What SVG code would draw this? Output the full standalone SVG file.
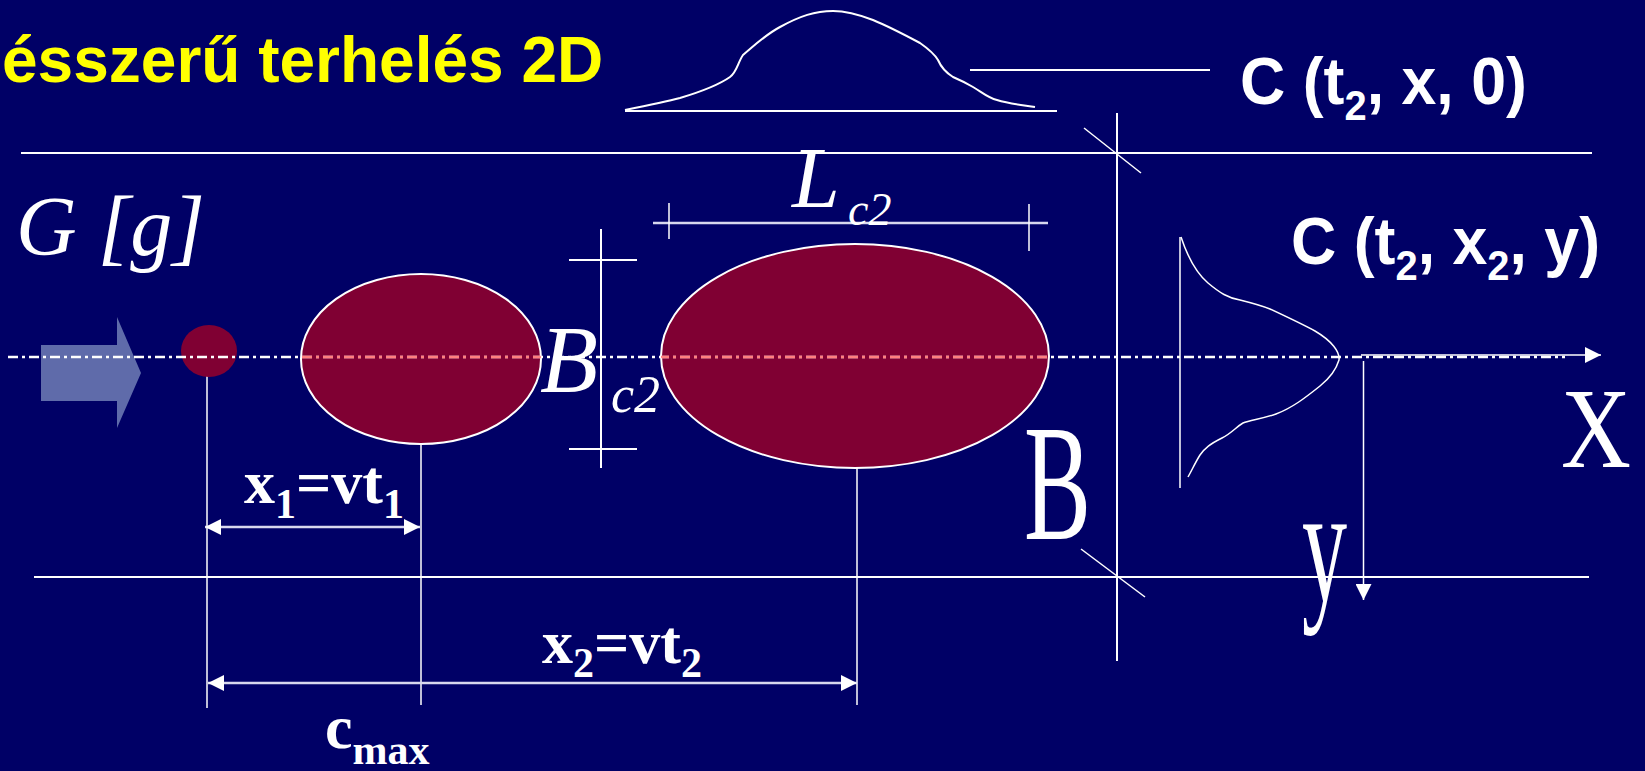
<svg xmlns="http://www.w3.org/2000/svg" width="1645" height="771" viewBox="0 0 1645 771">
<style>
.ln{stroke:#FFFFFF;stroke-width:2;fill:none}
.th{stroke:#FFFFFF;stroke-width:1.5;fill:none}
.dim{stroke:#D8D8EE;stroke-width:2.5;fill:none}
.blob{fill:#800033;stroke:#FFFFFF;stroke-width:2}
.ax{font-family:"Liberation Sans",Arial,sans-serif;font-weight:bold;fill:#FFFFFF}
.tm{font-family:"Liberation Serif","Times New Roman",serif;fill:#FFFFFF}
.tmi{font-family:"Liberation Serif","Times New Roman",serif;font-style:italic;fill:#FFFFFF}
.tmb{font-family:"Liberation Serif","Times New Roman",serif;font-weight:bold;fill:#FFFFFF}
</style>
<defs>
<marker id="ah" viewBox="0 0 16 16" refX="16" refY="8" markerWidth="16" markerHeight="16" markerUnits="userSpaceOnUse" orient="auto-start-reverse">
<path d="M0,0 L16,8 L0,16 z" fill="#FFFFFF"/>
</marker>
<clipPath id="inside">
<ellipse cx="421" cy="359" rx="120" ry="85"/>
<ellipse cx="855" cy="356" rx="194" ry="112"/>
</clipPath>
</defs>
<rect width="1645" height="771" fill="#000066"/>

<g id="title">
<text x="2" y="82" font-family="'Liberation Sans',Arial,sans-serif" font-weight="bold" font-size="64" fill="#FFFF00">ésszerű terhelés 2D</text>
</g>

<g id="connectors">
<line class="ln" x1="21" y1="153" x2="1592" y2="153"/>
<line class="ln" x1="34" y1="577" x2="1589" y2="577"/>
<line class="ln" x1="1117" y1="113" x2="1117" y2="661"/>
<line class="th" x1="1084" y1="128" x2="1141" y2="173"/>
<line class="th" x1="1081" y1="549" x2="1145" y2="597"/>
<line class="th" x1="207" y1="364" x2="207" y2="708"/>
<line class="th" x1="421" y1="353" x2="421" y2="705"/>
<line class="th" x1="857" y1="362" x2="857" y2="705"/>
<line class="dim" x1="205" y1="527" x2="420" y2="527" marker-start="url(#ah)" marker-end="url(#ah)"/>
<line class="dim" x1="208" y1="683" x2="857" y2="683" marker-start="url(#ah)" marker-end="url(#ah)"/>
<line class="th" x1="1363.5" y1="361" x2="1363.5" y2="600" marker-end="url(#ah)"/>
<line class="th" x1="1361" y1="355" x2="1601" y2="355" marker-end="url(#ah)"/>
</g>

<g id="inflow-arrow">
<polygon points="41,345 117,345 117,317 141,373 117,428 117,401 41,401" fill="#5F6BAA"/>
</g>

<g id="source-dot">
<ellipse cx="209" cy="351" rx="28" ry="26" fill="#800033"/>
</g>

<g id="plume-1">
<ellipse class="blob" cx="421" cy="359" rx="120" ry="85"/>
</g>

<g id="plume-2">
<ellipse class="blob" cx="855" cy="356" rx="194" ry="112"/>
</g>

<g id="centerline">
<line x1="8" y1="357" x2="1565" y2="357" stroke="#FFFFFF" stroke-width="2.5" stroke-dasharray="10 4 3 4"/>
<line x1="8" y1="357" x2="1565" y2="357" stroke="#FF8080" stroke-width="2.5" stroke-dasharray="10 4 3 4" clip-path="url(#inside)"/>
</g>

<g id="dim-Lc2">
<line class="dim" x1="653" y1="223" x2="1048" y2="223"/>
<line class="th" x1="669" y1="203" x2="669" y2="239"/>
<line class="th" x1="1029" y1="204" x2="1029" y2="251"/>
<text class="tmi" x="792" y="207" font-size="86">L</text>
<text class="tmi" x="848" y="225" font-size="46">c2</text>
</g>

<g id="dim-Bc2">
<line class="ln" x1="601" y1="229" x2="601" y2="468"/>
<line class="ln" x1="569" y1="260" x2="637" y2="260"/>
<line class="ln" x1="569" y1="449" x2="637" y2="449"/>
<text class="tmi" x="540" y="392" font-size="95">B</text>
<text class="tmi" x="611" y="412" font-size="52">c2</text>
</g>

<g id="profile-x">
<line class="ln" x1="625" y1="111" x2="1057" y2="111"/>
<path class="ln" d="M625,110 C650,105 665,102 680,98 C700,92 720,84 730,77 C737,72 738,62 743,55 C755,45 765,35 780,27 C800,16 815,11 833,11 C848,11 860,15 873,20 C890,27 905,35 920,43 C930,50 935,55 938,60 C941,67 945,72 953,77 C960,80 966,83 973,87 C983,93 988,98 997,100 C1010,104 1022,105 1035,107"/>
<line class="ln" x1="970" y1="70" x2="1210" y2="70"/>
<text class="ax" transform="translate(1240,104) scale(0.95,1)" font-size="66">C (t<tspan font-size="42" dy="16">2</tspan><tspan dy="-16">, x, 0)</tspan></text>
</g>

<g id="profile-y">
<line class="th" x1="1180" y1="237" x2="1180" y2="488"/>
<path class="th" d="M1181,237 C1187,255 1195,272 1208,283 C1220,293 1228,298 1240,300 C1252,303 1260,305 1270,309 C1285,316 1300,323 1315,331 C1332,341 1340,352 1339,360 C1336,370 1330,378 1320,386 C1305,398 1292,408 1276,414 C1262,419 1250,420 1243,423 C1236,427 1232,433 1222,438 C1210,444 1205,448 1200,455 C1195,463 1192,470 1188,477"/>
<text class="ax" transform="translate(1291,264) scale(0.95,1)" font-size="66">C (t<tspan font-size="42" dy="16">2</tspan><tspan dy="-16">, x</tspan><tspan font-size="42" dy="16">2</tspan><tspan dy="-16">, y)</tspan></text>
</g>

<g id="label-G">
<text class="tmi" x="16" y="255" font-size="84">G [g]</text>
</g>

<g id="label-x1">
<text class="tmb" x="244" y="503" font-size="62">x<tspan font-size="42" dy="15">1</tspan><tspan dy="-15">=vt</tspan><tspan font-size="42" dy="15">1</tspan></text>
</g>

<g id="label-x2">
<text class="tmb" x="542" y="663" font-size="62">x<tspan font-size="42" dy="14">2</tspan><tspan dy="-14">=vt</tspan><tspan font-size="42" dy="14">2</tspan></text>
</g>

<g id="label-cmax">
<text class="tmb" x="325" y="748" font-size="62">c<tspan font-size="42" dy="16">max</tspan></text>
</g>

<g id="label-B">
<text class="tm" x="1024" y="539" font-size="165" textLength="67" lengthAdjust="spacingAndGlyphs">B</text>
</g>

<g id="label-y">
<text class="tm" x="1302" y="601" font-size="165" textLength="45" lengthAdjust="spacingAndGlyphs">y</text>
</g>

<g id="label-X">
<text class="tm" x="1561" y="467" font-size="115" textLength="70" lengthAdjust="spacingAndGlyphs">X</text>
</g>
</svg>
